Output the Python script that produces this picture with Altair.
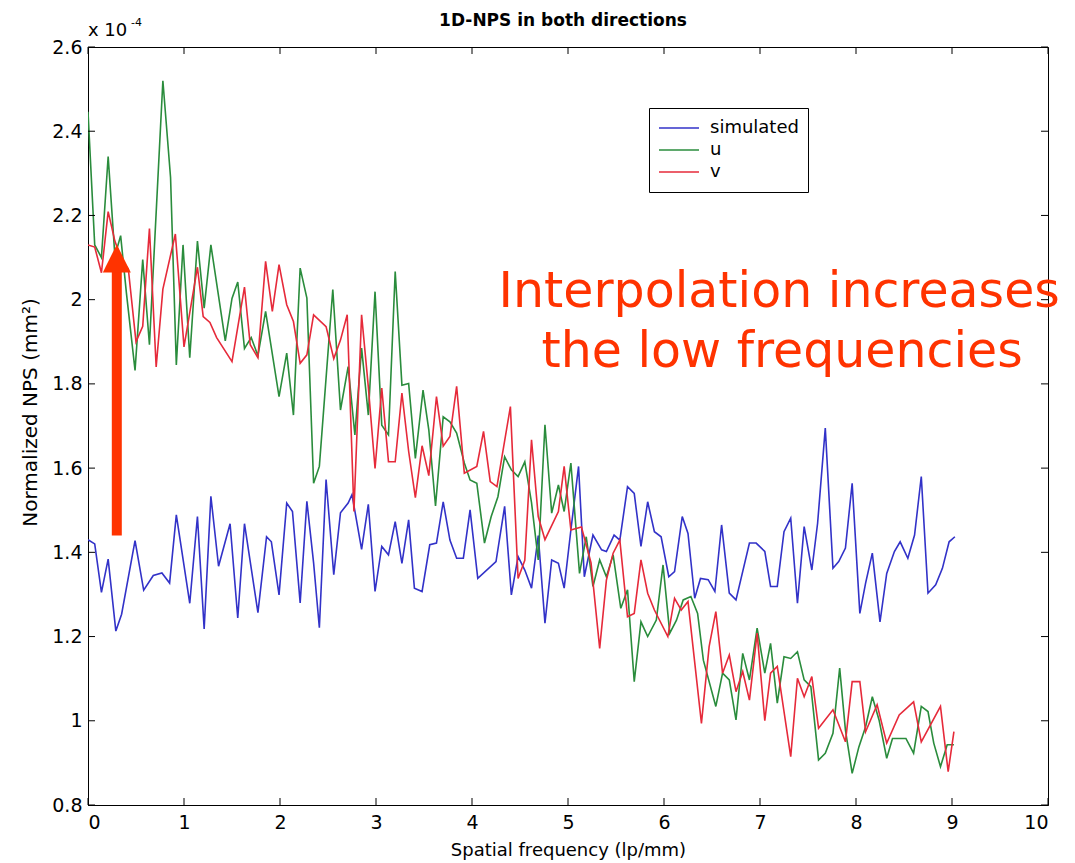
import altair as alt
import pandas as pd

# ---- data: 1D noise power spectra (units of 1e-4 mm^2) ----
sim_x = [0.00, 0.07, 0.14, 0.21, 0.29, 0.35, 0.49, 0.58, 0.68, 0.77, 0.85, 0.92, 1.06, 1.14, 1.21, 1.28,
         1.36, 1.48, 1.56, 1.63, 1.77, 1.86, 1.91, 1.99, 2.07, 2.13, 2.21, 2.28, 2.35, 2.41, 2.48, 2.56,
         2.63, 2.71, 2.75, 2.85, 2.92, 2.99, 3.06, 3.13, 3.20, 3.27, 3.34, 3.40, 3.48, 3.56, 3.63, 3.70,
         3.77, 3.84, 3.91, 3.98, 4.06, 4.25, 4.34, 4.41, 4.48, 4.55, 4.62, 4.69, 4.76, 4.83, 4.90, 4.96,
         5.03, 5.11, 5.17, 5.26, 5.35, 5.40, 5.48, 5.54, 5.62, 5.69, 5.76, 5.83, 5.90, 5.97, 6.05, 6.11,
         6.19, 6.25, 6.32, 6.38, 6.46, 6.53, 6.60, 6.68, 6.75, 6.89, 6.96, 7.05, 7.11, 7.18, 7.25, 7.32,
         7.39, 7.46, 7.54, 7.60, 7.68, 7.76, 7.82, 7.89, 7.96, 8.04, 8.10, 8.17, 8.25, 8.32, 8.40, 8.46,
         8.54, 8.61, 8.68, 8.75, 8.83, 8.90, 8.97, 9.03]
sim_y = [1.430, 1.420, 1.305, 1.384, 1.213, 1.253, 1.428, 1.310, 1.345, 1.351, 1.327, 1.489, 1.279, 1.485, 1.218, 1.533,
         1.367, 1.468, 1.244, 1.468, 1.257, 1.437, 1.425, 1.299, 1.517, 1.497, 1.280, 1.521, 1.375, 1.221, 1.573, 1.347,
         1.494, 1.517, 1.537, 1.407, 1.514, 1.307, 1.414, 1.394, 1.473, 1.374, 1.477, 1.315, 1.307, 1.418, 1.422, 1.520,
         1.429, 1.386, 1.386, 1.501, 1.338, 1.378, 1.509, 1.299, 1.390, 1.358, 1.315, 1.440, 1.232, 1.382, 1.374, 1.315,
         1.453, 1.604, 1.342, 1.441, 1.406, 1.402, 1.441, 1.429, 1.556, 1.540, 1.414, 1.520, 1.449, 1.437, 1.342, 1.354,
         1.485, 1.445, 1.291, 1.338, 1.335, 1.307, 1.465, 1.303, 1.287, 1.422, 1.422, 1.402, 1.319, 1.319, 1.449, 1.481,
         1.279, 1.461, 1.358, 1.469, 1.695, 1.362, 1.378, 1.410, 1.564, 1.255, 1.327, 1.398, 1.235, 1.350, 1.402, 1.425,
         1.386, 1.441, 1.580, 1.303, 1.323, 1.362, 1.425, 1.437]

u_x = [0.00, 0.07, 0.14, 0.21, 0.28, 0.34, 0.40, 0.49, 0.57, 0.64, 0.78, 0.86, 0.92, 0.99, 1.06, 1.14,
       1.21, 1.28, 1.43, 1.50, 1.56, 1.63, 1.70, 1.77, 1.85, 1.99, 2.07, 2.14, 2.21, 2.28, 2.35, 2.41,
       2.55, 2.63, 2.71, 2.78, 2.85, 2.92, 2.99, 3.06, 3.13, 3.20, 3.27, 3.34, 3.41, 3.49, 3.55, 3.62,
       3.70, 3.77, 3.84, 3.92, 3.98, 4.05, 4.13, 4.20, 4.27, 4.34, 4.41, 4.48, 4.55, 4.62, 4.69, 4.76,
       4.83, 4.90, 4.96, 5.03, 5.12, 5.19, 5.26, 5.33, 5.40, 5.47, 5.55, 5.62, 5.69, 5.76, 5.83, 5.92,
       5.99, 6.06, 6.13, 6.20, 6.28, 6.35, 6.41, 6.54, 6.61, 6.68, 6.75, 6.82, 6.89, 6.97, 7.05, 7.11,
       7.18, 7.25, 7.32, 7.39, 7.46, 7.53, 7.61, 7.68, 7.76, 7.83, 7.89, 7.96, 8.03, 8.10, 8.17, 8.24,
       8.32, 8.38, 8.52, 8.60, 8.68, 8.75, 8.81, 8.88, 8.95, 9.02]
u_y = [2.446, 2.130, 2.100, 2.340, 2.104, 2.152, 2.016, 1.832, 2.095, 1.893, 2.520, 2.290, 1.845, 2.130, 1.862, 2.139,
       1.980, 2.130, 1.902, 2.003, 2.042, 1.884, 1.910, 1.867, 1.972, 1.770, 1.873, 1.726, 2.075, 2.004, 1.564, 1.604,
       2.024, 1.738, 1.841, 1.679, 1.885, 1.726, 2.019, 1.702, 1.679, 2.067, 1.797, 1.801, 1.623, 1.785, 1.691, 1.510,
       1.722, 1.710, 1.683, 1.612, 1.572, 1.564, 1.422, 1.485, 1.532, 1.627, 1.596, 1.580, 1.615, 1.518, 1.382, 1.703,
       1.493, 1.560, 1.497, 1.612, 1.350, 1.437, 1.319, 1.382, 1.342, 1.394, 1.267, 1.311, 1.093, 1.235, 1.200, 1.239,
       1.370, 1.208, 1.239, 1.287, 1.295, 1.255, 1.144, 1.034, 1.113, 1.097, 1.002, 1.160, 1.097, 1.220, 1.113, 1.184,
       1.042, 1.152, 1.148, 1.164, 1.097, 1.081, 0.907, 0.923, 0.970, 1.125, 0.978, 0.875, 0.938, 0.986, 1.057, 1.002,
       0.911, 0.958, 0.958, 0.923, 1.034, 1.022, 0.947, 0.891, 0.943, 0.943]

v_x = [0.00, 0.07, 0.14, 0.21, 0.28, 0.35, 0.42, 0.50, 0.57, 0.64, 0.71, 0.78, 0.91, 1.00, 1.14, 1.20,
       1.27, 1.34, 1.50, 1.63, 1.69, 1.77, 1.85, 1.92, 1.99, 2.07, 2.14, 2.21, 2.28, 2.35, 2.48, 2.56,
       2.63, 2.70, 2.77, 2.85, 2.92, 2.99, 3.06, 3.13, 3.20, 3.27, 3.34, 3.41, 3.48, 3.55, 3.63, 3.70,
       3.77, 3.84, 3.92, 4.05, 4.12, 4.19, 4.26, 4.40, 4.48, 4.55, 4.62, 4.69, 4.76, 4.90, 4.96, 5.03,
       5.14, 5.24, 5.33, 5.40, 5.47, 5.54, 5.62, 5.69, 5.76, 5.83, 5.90, 6.04, 6.11, 6.18, 6.25, 6.39,
       6.47, 6.54, 6.61, 6.68, 6.75, 6.82, 6.89, 6.97, 7.05, 7.11, 7.18, 7.32, 7.39, 7.46, 7.54, 7.61,
       7.76, 7.89, 7.96, 8.04, 8.10, 8.22, 8.32, 8.45, 8.60, 8.68, 8.88, 8.96, 9.02]
v_y = [2.130, 2.125, 2.064, 2.209, 2.139, 2.095, 2.073, 1.900, 1.937, 2.169, 1.840, 2.025, 2.156, 1.888, 2.077, 1.960,
       1.946, 1.910, 1.853, 2.030, 1.893, 1.862, 2.091, 1.972, 2.083, 1.988, 1.948, 1.849, 1.869, 1.964, 1.936, 1.860,
       1.904, 1.964, 1.497, 1.964, 1.793, 1.599, 1.790, 1.615, 1.615, 1.778, 1.640, 1.530, 1.653, 1.582, 1.770, 1.652,
       1.675, 1.794, 1.588, 1.604, 1.687, 1.568, 1.556, 1.746, 1.338, 1.381, 1.667, 1.485, 1.430, 1.497, 1.604, 1.453,
       1.460, 1.375, 1.172, 1.334, 1.398, 1.429, 1.247, 1.255, 1.382, 1.303, 1.263, 1.200, 1.291, 1.263, 1.283, 0.994,
       1.176, 1.259, 1.113, 1.156, 1.069, 1.117, 1.049, 1.208, 1.000, 1.113, 1.129, 0.915, 1.101, 1.057, 1.105, 0.982,
       1.026, 0.950, 1.093, 1.093, 0.974, 1.038, 0.947, 1.014, 1.045, 0.950, 1.034, 0.879, 0.974]

series_names = ["simulated", "u", "v"]
line_colors = ["#3232c8", "#2a8c3c", "#e62a3a"]

x_ticks = [0, 1, 2, 3, 4, 5, 6, 7, 8, 9, 10]
y_ticks = [0.8, 1.0, 1.2, 1.4, 1.6, 1.8, 2.0, 2.2, 2.4, 2.6]

# annotation: arrow from the simulated level up to the interpolated level
arrow_x = [0.30]
arrow_base = [1.44]
arrow_neck = [2.07]
arrow_head_mid = [2.098]
note_lines = ["Interpolation increases", "the low frequencies"]
note_x = [7.20, 7.23]
note_y = [1.983, 1.840]

FONT = "DejaVu Sans"
ACCENT = "#ff3300"
W, H = 960, 758
X_TITLE = "Spatial frequency (lp/mm)"
Y_TITLE = "Normalized NPS (mm²)"
PLOT_TITLE = "1D-NPS in both directions"

rows = []
for name, xs, ys in zip(series_names, [sim_x, u_x, v_x], [sim_y, u_y, v_y]):
    for i, (a, b) in enumerate(zip(xs, ys)):
        rows.append({"series": name, "freq": a, "nps": b, "idx": i})
df = pd.DataFrame(rows)

xscale = alt.Scale(domain=[0, 10], nice=False, zero=False)
yscale = alt.Scale(domain=[0.8, 2.6], nice=False, zero=False)
x_axis = alt.Axis(values=x_ticks, title=X_TITLE, ticks=False, grid=False, labelPadding=8,
                  titleY=36, titleBaseline="top")
y_axis = alt.Axis(values=y_ticks, format="~g", title=Y_TITLE, ticks=False, grid=False,
                  labelPadding=6, titleX=-48, titleY=H / 2 - 14, titleAngle=-90,
                  titleFontSize=20, titleBaseline="bottom", titleAlign="center")


def xq(field):
    return alt.X(field, type="quantitative", scale=xscale, axis=x_axis, title=X_TITLE)


def yq(field):
    return alt.Y(field, type="quantitative", scale=yscale, axis=y_axis, title=Y_TITLE)


lines = alt.Chart(df).mark_line(strokeWidth=1.6, clip=True).encode(
    x=xq("freq"),
    y=yq("nps"),
    color=alt.Color("series:N", scale=alt.Scale(domain=series_names, range=line_colors),
                    legend=alt.Legend(title=None, orient="none", legendX=561, legendY=61,
                                      symbolType="stroke", symbolSize=1600, symbolStrokeWidth=1.5,
                                      labelFontSize=18, labelFont=FONT, labelOffset=10,
                                      strokeColor="black", fillColor="white", padding=9,
                                      clipHeight=22, rowPadding=0)),
    order="idx:Q",
)

# inward tick marks on all four sides of the box
xt = pd.DataFrame({"t": x_ticks})
yt = pd.DataFrame({"t": y_ticks})
tick_len = 7
bottom_ticks = alt.Chart(xt).mark_rule(color="black", strokeWidth=1).encode(
    x=xq("t"), y=alt.value(H), y2=alt.value(H - tick_len))
top_ticks = alt.Chart(xt).mark_rule(color="black", strokeWidth=1).encode(
    x=xq("t"), y=alt.value(0), y2=alt.value(tick_len))
left_ticks = alt.Chart(yt).mark_rule(color="black", strokeWidth=1).encode(
    y=yq("t"), x=alt.value(0), x2=alt.value(tick_len))
right_ticks = alt.Chart(yt).mark_rule(color="black", strokeWidth=1).encode(
    y=yq("t"), x=alt.value(W), x2=alt.value(W - tick_len))

# plot title and axis exponent label above the box
title_txt = alt.Chart(pd.DataFrame({"s": [PLOT_TITLE]})).mark_text(
    font=FONT, fontSize=17, fontWeight="bold", align="center", baseline="alphabetic",
    color="black").encode(text="s:N", x=alt.value(W / 2 - 5), y=alt.value(-21))
exp_main = alt.Chart(pd.DataFrame({"s": ["x 10"]})).mark_text(
    font=FONT, fontSize=18, align="left", baseline="alphabetic", color="black").encode(
    text="s:N", x=alt.value(0), y=alt.value(-11))
exp_sup = alt.Chart(pd.DataFrame({"s": ["-4"]})).mark_text(
    font=FONT, fontSize=11, align="left", baseline="alphabetic", color="black").encode(
    text="s:N", x=alt.value(43), y=alt.value(-21))

arrow_df = pd.DataFrame({"x": arrow_x, "y0": arrow_base, "y1": arrow_neck, "ym": arrow_head_mid})
shaft = alt.Chart(arrow_df).mark_rule(color=ACCENT, strokeWidth=10, strokeCap="butt").encode(
    x=xq("x"), y=yq("y0"), y2="y1:Q")
head = alt.Chart(arrow_df).mark_point(shape="M-1,1L1,1L0,-1Z", size=784, filled=True,
                                      color=ACCENT, opacity=1).encode(
    x=xq("x"), y=yq("ym"))

note_df = pd.DataFrame({"txt": note_lines, "x": note_x, "y": note_y})
note = alt.Chart(note_df).mark_text(font="DejaVu Sans", fontSize=49, color=ACCENT,
                                    align="center", baseline="alphabetic").encode(
    x=xq("x"), y=yq("y"), text="txt:N")

chart = alt.layer(
    lines, bottom_ticks, top_ticks, left_ticks, right_ticks,
    title_txt, exp_main, exp_sup, shaft, head, note
).properties(
    width=W, height=H,
    background="white",
    autosize=alt.AutoSizeParams(type="none"),
    padding={"left": 88, "top": 47, "right": 27, "bottom": 58},
).configure_view(
    stroke="black", strokeWidth=1
).configure_axis(
    labelFont=FONT, labelFontSize=19, labelColor="black", titleFont=FONT, titleFontSize=18,
    titleFontWeight="normal", titleColor="black", domainColor="black", domainWidth=1,
)

chart.save("out.html", embed_options={"renderer": "svg", "actions": False})
